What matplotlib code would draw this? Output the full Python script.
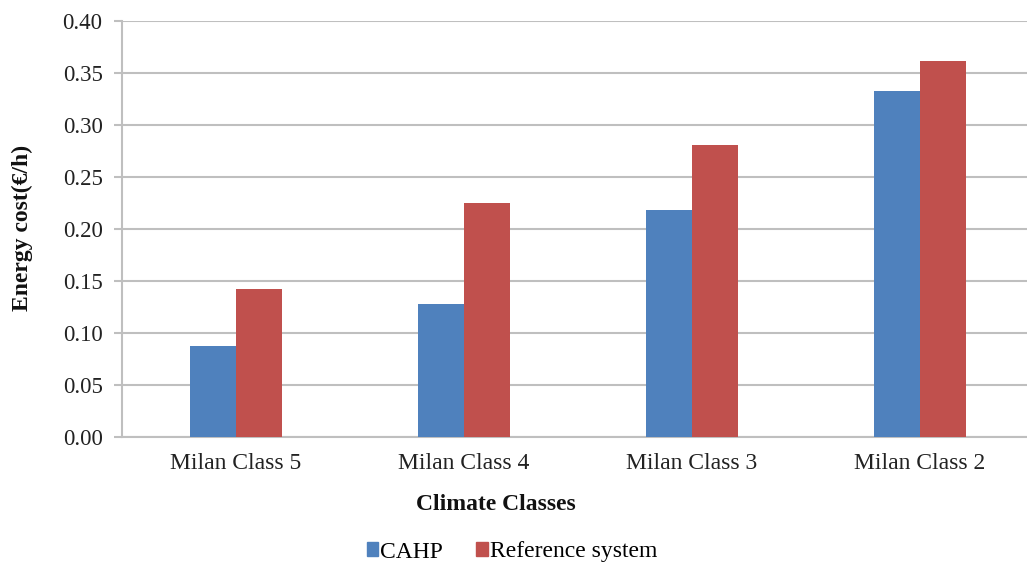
import matplotlib
matplotlib.use("Agg")
import matplotlib.pyplot as plt
import numpy as np
from matplotlib.patches import Patch

plt.rcParams['font.family'] = ['Liberation Serif', 'DejaVu Serif']

categories = ["Milan Class 5", "Milan Class 4", "Milan Class 3", "Milan Class 2"]
cahp = [0.087, 0.128, 0.218, 0.333]
reference = [0.142, 0.225, 0.281, 0.362]
series_names = ["CAHP", "Reference system"]
y_ticks = [0.00, 0.05, 0.10, 0.15, 0.20, 0.25, 0.30, 0.35, 0.40]

blue = "#4F81BD"
red = "#C0504D"
grid_gray = "#BFBFBF"

W, H = 1027, 568
fig = plt.figure(figsize=(W / 100, H / 100), dpi=100)
ax = fig.add_axes([122 / W, 1 - 436.7 / H, 912 / W, 415.4 / H])

x = np.arange(len(categories))
bw = 0.2
ax.bar(x - bw / 2, cahp, bw, color=blue, zorder=3)
ax.bar(x + bw / 2, reference, bw, color=red, zorder=3)

ax.set_xlim(-0.5, len(categories) - 0.5)
ax.set_ylim(0, 0.40)
ax.set_yticks(y_ticks)
ax.set_yticklabels([f"{v:.2f}" for v in y_ticks], fontsize=16.5)
ax.set_xticks(x)
ax.set_xticklabels(categories, fontsize=17)

ax.yaxis.grid(True, color=grid_gray, linewidth=1.5, zorder=0)
ax.set_axisbelow(True)
for side in ["top", "right"]:
    ax.spines[side].set_visible(False)
for side in ["left", "bottom"]:
    ax.spines[side].set_color(grid_gray)
    ax.spines[side].set_linewidth(1.5)
ax.tick_params(axis="y", length=6, width=1.5, color=grid_gray, pad=8, labelcolor="#222222")
ax.tick_params(axis="x", length=0, pad=12, labelcolor="#222222")

fig.text(22 / W, 1 - 228 / H, "Energy cost(\u20ac/h)", rotation=90, ha="center", va="center",
         fontsize=17, fontweight="bold", color="#111111")
fig.text(496 / W, 1 - 505 / H, "Climate Classes", ha="center", va="center",
         fontsize=17, fontweight="bold", color="#111111")

handles = [Patch(color=blue), Patch(color=red)]
fig.legend(handles, series_names, loc="center", bbox_to_anchor=(512 / W, 1 - 552 / H),
           ncol=2, frameon=False, fontsize=17, handlelength=0.5, handleheight=0.5,
           handletextpad=0.08, columnspacing=1.4)

fig.savefig("out.png", dpi=100)
